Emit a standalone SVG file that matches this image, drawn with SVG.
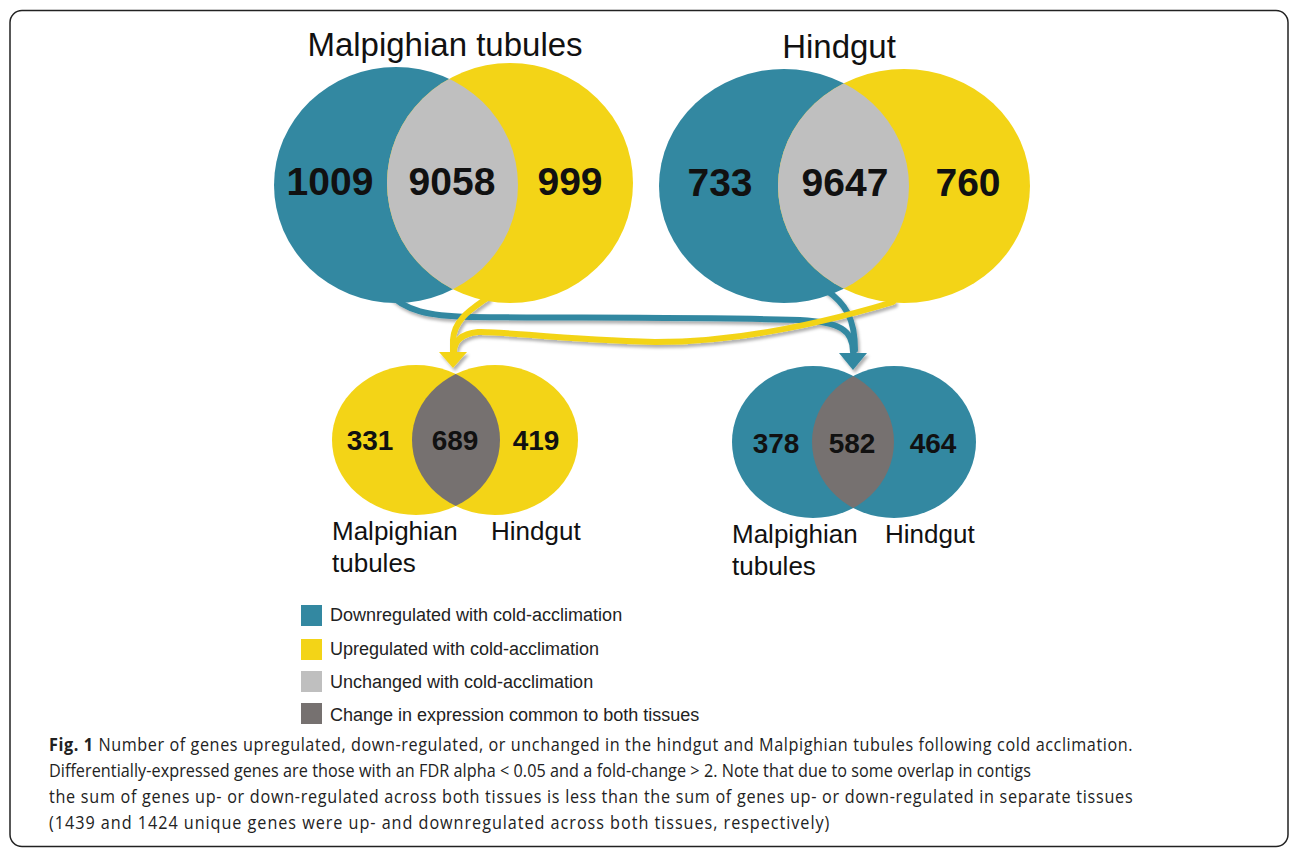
<svg xmlns="http://www.w3.org/2000/svg" width="1290" height="850" viewBox="0 0 1290 850">
<style>
.teal{fill:#3388a1}
.yel{fill:#f3d417}
.lgray{fill:#bfbfbf}
.dgray{fill:#767170}
.title{font-family:"Liberation Sans",Arial,sans-serif;font-size:33px;fill:#111;text-anchor:middle}
.big{font-family:"Liberation Sans",Arial,sans-serif;font-size:39px;font-weight:bold;fill:#111;text-anchor:middle}
.mid{font-family:"Liberation Sans",Arial,sans-serif;font-size:28px;font-weight:bold;fill:#111;text-anchor:middle}
.lab{font-family:"Liberation Sans",Arial,sans-serif;font-size:26px;fill:#111}
.leg{font-family:"Liberation Sans",Arial,sans-serif;font-size:18px;fill:#222}
.cap{font-family:"Open Sans","Noto Sans",sans-serif;font-size:18px;fill:#222}
.tl{fill:none;stroke:#3388a1;stroke-width:6;stroke-linecap:round}
.yl{fill:none;stroke:#f3d417;stroke-width:6;stroke-linecap:round}
</style>
<defs>
<filter id="sh" x="-10%" y="-30%" width="120%" height="160%">
<feDropShadow dx="2" dy="3" stdDeviation="1.8" flood-color="#000" flood-opacity="0.3"/>
</filter>
<clipPath id="c1"><ellipse cx="396" cy="185" rx="122" ry="118"/></clipPath>
<clipPath id="c2"><ellipse cx="784" cy="186" rx="125" ry="117"/></clipPath>
<clipPath id="c3"><ellipse cx="416" cy="440" rx="84" ry="75"/></clipPath>
<clipPath id="c4"><ellipse cx="813" cy="442" rx="81" ry="76"/></clipPath>
</defs>
<rect x="10" y="10.5" width="1278" height="836" rx="12" fill="#fff" stroke="#222" stroke-width="1.5"/>

<g id="connectors" filter="url(#sh)">
<path class="tl" d="M 385 290 C 405 312, 430 316, 470 317 C 580 318, 700 317, 800 320 C 840 322, 853 330, 853 352"/>
<path class="tl" d="M 826 290 C 845 303, 855 318, 855 350"/>
<polygon class="teal" points="839,353 867,353 853,370"/>
<path class="yl" d="M 487 298 C 470 310, 454 320, 453 340 L 453 352"/>
<path class="yl" d="M 893 302 C 800 330, 720 342, 655 342 C 560 340, 505 331, 478 332 C 460 334, 454 342, 454 352"/>
<polygon class="yel" points="439,352 467,352 453,368"/>
</g>

<g id="venn-malpighian">
<text class="title" x="445" y="56">Malpighian tubules</text>
<ellipse class="teal" cx="396" cy="185" rx="122" ry="118"/>
<ellipse class="yel" cx="510" cy="183" rx="123" ry="120"/>
<ellipse class="lgray" cx="510" cy="183" rx="123" ry="120" clip-path="url(#c1)"/>
<text class="big" x="330" y="195">1009</text>
<text class="big" x="452" y="195">9058</text>
<text class="big" x="570" y="195">999</text>
</g>

<g id="venn-hindgut">
<text class="title" x="839" y="58">Hindgut</text>
<ellipse class="teal" cx="784" cy="186" rx="125" ry="117"/>
<ellipse class="yel" cx="904" cy="186" rx="126" ry="117"/>
<ellipse class="lgray" cx="904" cy="186" rx="126" ry="117" clip-path="url(#c2)"/>
<text class="big" x="720" y="196">733</text>
<text class="big" x="845" y="196">9647</text>
<text class="big" x="968" y="196">760</text>
</g>

<g id="venn-up">
<ellipse class="yel" cx="416" cy="440" rx="84" ry="75"/>
<ellipse class="yel" cx="495" cy="440" rx="83" ry="75"/>
<ellipse class="dgray" cx="495" cy="440" rx="83" ry="75" clip-path="url(#c3)"/>
<text class="mid" x="370" y="450">331</text>
<text class="mid" x="455" y="450">689</text>
<text class="mid" x="536" y="450">419</text>
<text class="lab" x="332" y="540">Malpighian</text>
<text class="lab" x="332" y="572">tubules</text>
<text class="lab" x="491" y="540">Hindgut</text>
</g>

<g id="venn-down">
<ellipse class="teal" cx="813" cy="442" rx="81" ry="76"/>
<ellipse class="teal" cx="894" cy="442" rx="82" ry="76"/>
<ellipse class="dgray" cx="894" cy="442" rx="82" ry="76" clip-path="url(#c4)"/>
<text class="mid" x="776" y="453">378</text>
<text class="mid" x="852" y="453">582</text>
<text class="mid" x="933" y="453">464</text>
<text class="lab" x="732" y="543">Malpighian</text>
<text class="lab" x="732" y="575">tubules</text>
<text class="lab" x="885" y="543">Hindgut</text>
</g>

<g id="legend">
<rect class="teal" x="301" y="605" width="21" height="21"/>
<text class="leg" x="330" y="621">Downregulated with cold-acclimation</text>
<rect class="yel" x="301" y="639" width="21" height="21"/>
<text class="leg" x="330" y="655">Upregulated with cold-acclimation</text>
<rect class="lgray" x="301" y="671" width="21" height="21"/>
<text class="leg" x="330" y="688">Unchanged with cold-acclimation</text>
<rect class="dgray" x="301" y="703" width="21" height="21"/>
<text class="leg" x="330" y="721">Change in expression common to both tissues</text>
</g>

<g id="caption" transform="translate(49,0) scale(0.9,1)">
<text class="cap" x="0" y="751" textLength="1204" lengthAdjust="spacing"><tspan font-weight="bold">Fig. 1</tspan> Number of genes upregulated, down-regulated, or unchanged in the hindgut and Malpighian tubules following cold acclimation.</text>
<text class="cap" x="0" y="777" textLength="1091" lengthAdjust="spacing">Differentially-expressed genes are those with an FDR alpha &lt; 0.05 and a fold-change &gt; 2. Note that due to some overlap in contigs</text>
<text class="cap" x="0" y="803" textLength="1204" lengthAdjust="spacing">the sum of genes up- or down-regulated across both tissues is less than the sum of genes up- or down-regulated in separate tissues</text>
<text class="cap" x="0" y="829" textLength="867" lengthAdjust="spacing">(1439 and 1424 unique genes were up- and downregulated across both tissues, respectively)</text>
</g>
</svg>
